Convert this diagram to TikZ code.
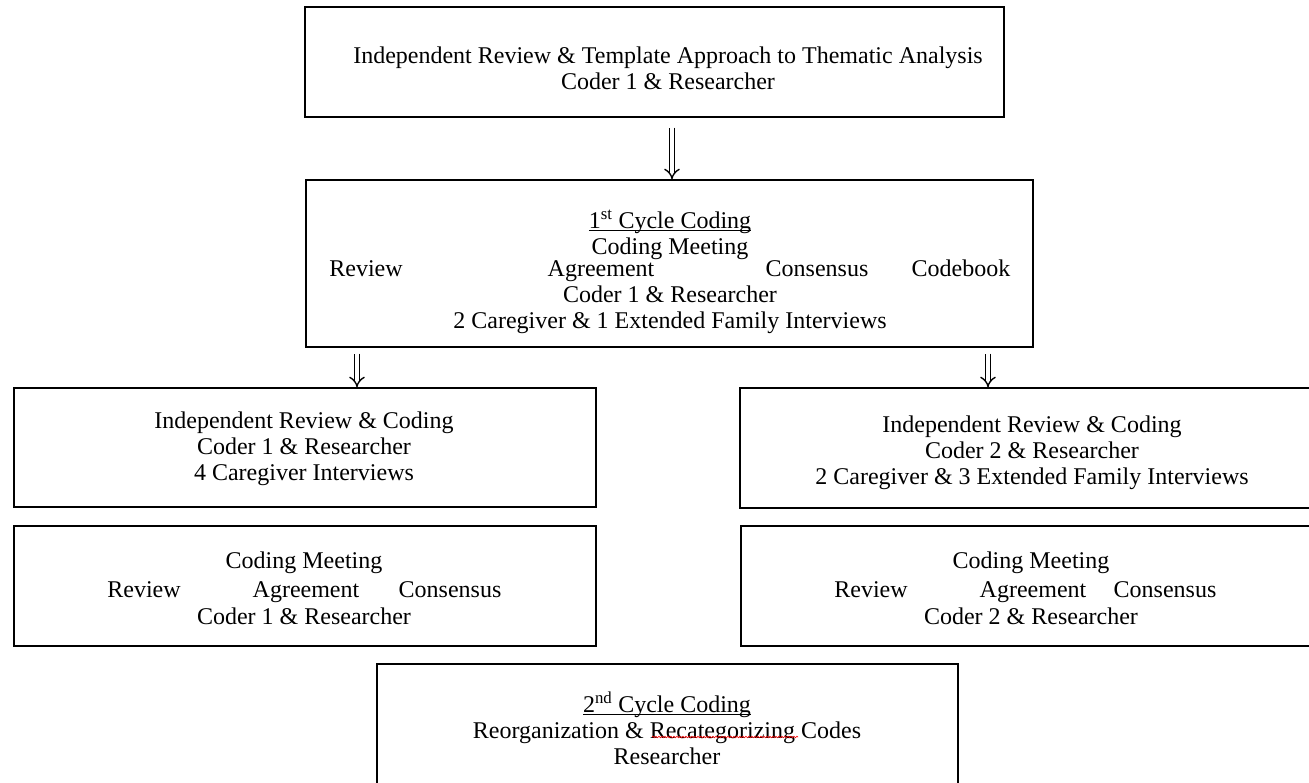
\documentclass[tikz,border=0pt]{standalone}
\usepackage{fontspec}
\setmainfont{Liberation Serif}
\usetikzlibrary{arrows.meta}
\usetikzlibrary{decorations.pathmorphing}
\newcommand{\headline}[1]{\setbox0\hbox{#1}\rlap{\rule[-2.5pt]{\wd0}{1pt}}\box0}

\begin{document}
\begin{tikzpicture}[
		x=1pt, y=-1pt,
		line width=1.5pt,
		box/.style={draw, rectangle, inner sep=0pt},
		txt/.style={align=center, inner sep=0pt, font=\fontsize{24}{26}\selectfont},
		word/.style={txt, anchor=base},
		arr/.style={double, double distance=4pt, line width=1.4pt, -{Implies}},
	]
	\useasboundingbox (0,0) rectangle (1309,783);
	\clip (0,0) rectangle (1309,783);

	% boxes
	\node[box, minimum width=699, minimum height=110] (template) at (654.5, 62) {};
	\node[box, minimum width=727, minimum height=167] (cycleone) at (669.5, 263.5) {};
	\node[box, minimum width=582, minimum height=119] (reviewone) at (305, 447.5) {};
	\node[box, minimum width=582, minimum height=120] (meetone) at (305, 586) {};
	\node[box, minimum width=586, minimum height=120] (reviewtwo) at (1033, 448) {};
	\node[box, minimum width=585, minimum height=120] (meettwo) at (1033.5, 586) {};
	\node[box, minimum width=581, minimum height=136] (cycletwo) at (667.5, 732) {};

	% texts
	\node[txt] (templatetxt) at (668, 68) {Independent Review \& Template Approach to Thematic Analysis\\Coder 1 \& Researcher};

	\node[txt] (cycleonehead) at (670, 235) {\headline{1\textsuperscript{st} Cycle Coding}\\Coding Meeting};
	\begin{scope}[every node/.style={word}]
		\node (crev) at (366, 277) {Review};
		\node (cagr) at (601, 277) {Agreement};
		\node (ccon) at (817, 277) {Consensus};
		\node (ccod) at (961, 277) {Codebook};
	\end{scope}
	\node[txt] (cycleonefoot) at (670, 310) {Coder 1 \& Researcher\\2 Caregiver \& 1 Extended Family Interviews};

	\node[txt] (reviewonetxt) at (304, 449) {Independent Review \& Coding\\Coder 1 \& Researcher\\4 Caregiver Interviews};
	\node[txt] (reviewtwotxt) at (1032, 453) {Independent Review \& Coding\\Coder 2 \& Researcher\\2 Caregiver \& 3 Extended Family Interviews};

	\node[txt] (meetonehead) at (304, 563) {Coding Meeting};
	\node[txt] (meettwohead) at (1031, 563) {Coding Meeting};
	\begin{scope}[every node/.style={word}]
		\node (lrev) at (144, 597) {Review};
		\node (lagr) at (306, 597) {Agreement};
		\node (lcon) at (450, 597) {Consensus};
		\node (rrev) at (871, 597) {Review};
		\node (ragr) at (1033, 597) {Agreement};
		\node (rcon) at (1165, 597) {Consensus};
	\end{scope}
	\node[txt] (meetonefoot) at (304, 616) {Coder 1 \& Researcher};
	\node[txt] (meettwofoot) at (1031, 616) {Coder 2 \& Researcher};

	\node[txt] (cycletwotxt) at (667, 728) {\headline{2\textsuperscript{nd} Cycle Coding}\\Reorganization \& Recategorizing Codes\\Researcher};
	\draw[red, line width=0.6pt, decorate, decoration={snake, amplitude=0.8pt, segment length=3pt}] (652, 737) -- (798, 737);

	% arrows
	\draw[arr] ([shift={(17.5, 10)}]template.south) -- ([xshift=2.5]cycleone.north);
	\draw[arr] ([shift={(-312.5, 6)}]cycleone.south) -- ([xshift=52]reviewone.north);
	\draw[arr] ([shift={(318.5, 6)}]cycleone.south) -- ([xshift=-45]reviewtwo.north);
\end{tikzpicture}
\end{document}
